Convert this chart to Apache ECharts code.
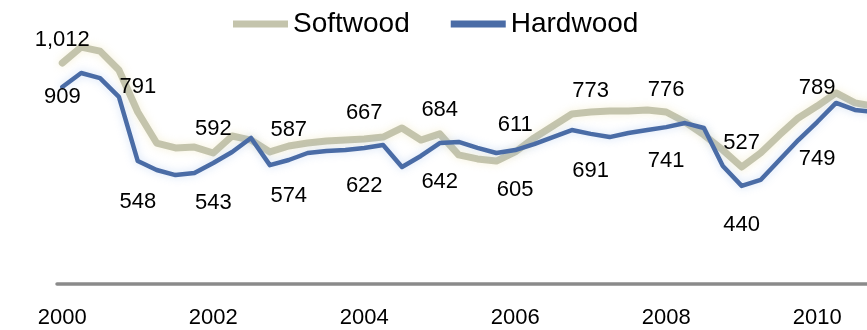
<!DOCTYPE html>
<html>
<head>
<meta charset="utf-8">
<script src="https://cdn.jsdelivr.net/npm/echarts@6/dist/echarts.min.js"></script>
<style>
  html, body { margin: 0; padding: 0; background: #ffffff; }
  #chart { width: 867px; height: 330px; }
</style>
</head>
<body>
<div id="chart"></div>
<script>
// Quarterly series
const quarters = [
  '2000Q1','2000Q2','2000Q3','2000Q4','2001Q1','2001Q2','2001Q3','2001Q4',
  '2002Q1','2002Q2','2002Q3','2002Q4','2003Q1','2003Q2','2003Q3','2003Q4',
  '2004Q1','2004Q2','2004Q3','2004Q4','2005Q1','2005Q2','2005Q3','2005Q4',
  '2006Q1','2006Q2','2006Q3','2006Q4','2007Q1','2007Q2','2007Q3','2007Q4',
  '2008Q1','2008Q2','2008Q3','2008Q4','2009Q1','2009Q2','2009Q3','2009Q4',
  '2010Q1','2010Q2','2010Q3','2010Q4'
];
const softwood = [
  1041, 1116, 1097, 1008, 810, 664, 641, 645,
  617, 697, 678, 622, 650, 664, 674, 678,
  683, 692, 735, 678, 707, 608, 589, 579,
  622, 688, 744, 801, 810, 815, 815, 820,
  810, 763, 702, 631, 551, 617, 702, 782,
  838, 900, 853, 838
];
const hardwood = [
  928, 994, 970, 881, 579, 537, 513, 523,
  570, 622, 688, 560, 584, 617, 626, 631,
  641, 655, 551, 603, 664, 669, 641, 617,
  631, 659, 692, 725, 707, 692, 711, 725,
  739, 758, 735, 556, 462, 490, 584, 678,
  763, 853, 820, 810
];

// Annual figures shown as labels
const years = [2000, 2001, 2002, 2003, 2004, 2005, 2006, 2007, 2008, 2009, 2010];
const softwoodAnnual = [1012, 791, 592, 587, 667, 684, 611, 773, 776, 527, 789];
const hardwoodAnnual = [909, 548, 543, 574, 622, 642, 605, 691, 741, 440, 749];

// Year labels along the axis
const tickYears = [2000, 2002, 2004, 2006, 2008, 2010];

const FONT = '"Liberation Sans", Arial, sans-serif';

function quarterPos(q) {
  const y = parseInt(q.slice(0, 4), 10);
  const n = parseInt(q.slice(5), 10);
  return y + (n - 1) / 4;
}
const pairs = vals => quarters.map((q, i) => [quarterPos(q), vals[i]]);
const fmt = v => v.toLocaleString('en-US');

const labelText = {
  show: true,
  fontFamily: FONT,
  fontSize: 22,
  color: '#000000',
  opacity: 1,
  textBorderWidth: 0,
  formatter: p => fmt(p.value[1])
};

const chart = echarts.init(document.getElementById('chart'), null, { renderer: 'canvas' });

chart.setOption({
  animation: false,
  backgroundColor: '#ffffff',
  grid: { left: 57, right: 0, top: 8, bottom: 46, containLabel: false },
  legend: {
    data: ['Softwood', 'Hardwood'],
    left: 233,
    top: 10,
    padding: 0,
    itemGap: 41,
    itemWidth: 55,
    itemHeight: 7,
    icon: 'rect',
    textStyle: { fontFamily: FONT, fontSize: 28, color: '#000000' }
  },
  xAxis: {
    type: 'value',
    min: 1999.93,
    max: 2010.66,
    splitLine: { show: false },
    axisTick: { show: false },
    axisLine: { show: true, onZero: false, lineStyle: { color: '#8a8a8a', width: 3.5 } },
    axisLabel: {
      customValues: tickYears,
      margin: 23,
      fontFamily: FONT,
      fontSize: 22,
      color: '#000000',
      formatter: v => String(v)
    }
  },
  yAxis: {
    type: 'value',
    min: 0,
    max: 1300,
    show: false,
    splitLine: { show: false }
  },
  series: [
    {
      name: 'Softwood',
      type: 'line',
      data: pairs(softwood),
      showSymbol: false,
      symbol: 'none',
      color: '#c4c4ac',
      lineStyle: {
        color: '#c4c4ac', width: 7, join: 'round', cap: 'round',
        shadowColor: 'rgba(235,225,170,0.45)', shadowBlur: 8
      },
      z: 2
    },
    {
      name: 'Hardwood',
      type: 'line',
      data: pairs(hardwood),
      showSymbol: false,
      symbol: 'none',
      color: '#4a6ca6',
      lineStyle: {
        color: '#4a6ca6', width: 4.5, join: 'round', cap: 'round',
        shadowColor: 'rgba(150,185,235,0.45)', shadowBlur: 8
      },
      z: 3
    },
    {
      name: 'Softwood annual',
      type: 'scatter',
      symbol: 'circle',
      symbolSize: 0,
      itemStyle: { color: '#ffffff', opacity: 1 },
      data: years.map((y, i) => [y, softwoodAnnual[i]]),
      label: Object.assign({}, labelText, { position: 'top', distance: 18 }),
      z: 4
    },
    {
      name: 'Hardwood annual',
      type: 'scatter',
      symbol: 'circle',
      symbolSize: 0,
      itemStyle: { color: '#ffffff', opacity: 1 },
      data: years.map((y, i) => {
        const item = { value: [y, hardwoodAnnual[i]] };
        if (i === 0) item.label = { position: 'inside', offset: [0, 6] };
        return item;
      }),
      label: Object.assign({}, labelText, { position: 'bottom', distance: 23 }),
      z: 4
    }
  ],
  graphic: [
    {
      type: 'text',
      x: 10,
      y: 328,
      silent: true,
      style: {
        text: 'Source: D',
        fontFamily: FONT,
        fontSize: 22,
        fill: '#777777',
        verticalAlign: 'top'
      }
    }
  ]
});
</script>
</body>
</html>
